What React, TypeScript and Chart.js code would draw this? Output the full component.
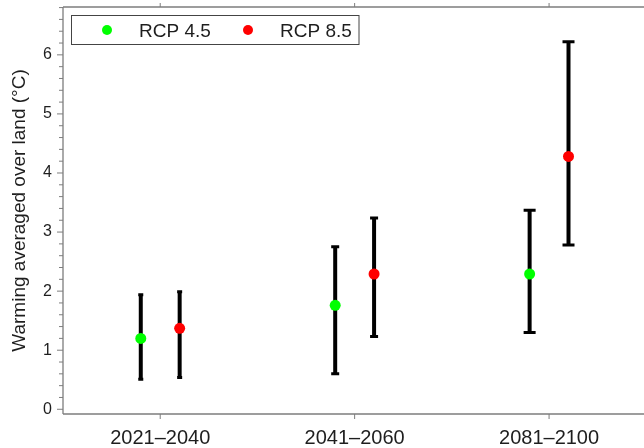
import React, { useEffect, useRef } from 'react';
import { Chart, registerables } from 'chart.js';

Chart.register(...registerables);

// ---- data ----
const categories = ['2021–2040', '2041–2060', '2081–2100'];
const seriesNames = ['RCP 4.5', 'RCP 8.5'];
const rcp45Mean = [1.2, 1.76, 2.29];
const rcp45Low = [0.51, 0.6, 1.3];
const rcp45High = [1.94, 2.75, 3.37];
const rcp85Mean = [1.37, 2.29, 4.28];
const rcp85Low = [0.54, 1.23, 2.78];
const rcp85High = [1.99, 3.24, 6.22];
const yMajorTicks = [0, 1, 2, 3, 4, 5, 6];
const yTitle = 'Warming averaged over land (°C)';

// ---- style ----
const colors = ['#00ff00', '#ff0000'];
const dodge = 0.1;
const capHalf = [2.5, 4, 6];
const FONT = '"Liberation Sans", Arial, Helvetica, sans-serif';
const AXIS_COLOR = '#7d7d7d';
const TEXT_COLOR = '#1e1e1e';

const decorPlugin = {
  id: 'decor',
  beforeDatasetsDraw(chart: any) {
    const ctx = chart.ctx;
    const y = chart.scales.y;
    chart.data.datasets.forEach((ds: any, di: number) => {
      const meta = chart.getDatasetMeta(di);
      meta.data.forEach((pt: any, i: number) => {
        const x = pt.x;
        const yl = y.getPixelForValue(ds.errLow[i]);
        const yh = y.getPixelForValue(ds.errHigh[i]);
        ctx.save();
        ctx.strokeStyle = '#000';
        ctx.lineCap = 'butt';
        ctx.lineWidth = 4;
        ctx.beginPath();
        ctx.moveTo(x, yl);
        ctx.lineTo(x, yh);
        ctx.stroke();
        const c = capHalf[i];
        ctx.lineWidth = 3;
        ctx.beginPath();
        ctx.moveTo(x - c, yh);
        ctx.lineTo(x + c, yh);
        ctx.moveTo(x - c, yl);
        ctx.lineTo(x + c, yl);
        ctx.stroke();
        ctx.restore();
      });
    });
  },
  afterDraw(chart: any) {
    const ctx = chart.ctx;
    const a = chart.chartArea;
    const xs = chart.scales.x;
    const ys = chart.scales.y;
    ctx.save();
    ctx.strokeStyle = AXIS_COLOR;
    ctx.lineWidth = 1.3;
    ctx.beginPath();
    ctx.moveTo(a.left, a.top);
    ctx.lineTo(a.left, a.bottom);
    ctx.moveTo(a.left, a.bottom);
    ctx.lineTo(chart.width, a.bottom);
    ctx.moveTo(a.left, a.top);
    ctx.lineTo(chart.width, a.top);
    ctx.stroke();

    ctx.lineWidth = 1;
    ctx.beginPath();
    yMajorTicks.forEach((v) => {
      const p = ys.getPixelForValue(v);
      ctx.moveTo(a.left - 6, p);
      ctx.lineTo(a.left, p);
    });
    for (let k = 1; k * 0.2 <= ys.max + 1e-9; k++) {
      if (k % 5 === 0) continue;
      const p = ys.getPixelForValue(k * 0.2);
      ctx.moveTo(a.left - 4, p);
      ctx.lineTo(a.left, p);
    }
    categories.forEach((_, i) => {
      const p = xs.getPixelForValue(i);
      ctx.moveTo(p, a.bottom);
      ctx.lineTo(p, a.bottom + 5);
      ctx.moveTo(p, a.top);
      ctx.lineTo(p, a.top - 4);
    });
    ctx.stroke();

    // legend
    ctx.strokeStyle = '#444';
    ctx.lineWidth = 1;
    ctx.strokeRect(71.5, 15.5, 287.5, 29);
    const dotX = [107, 248];
    const textX = [139, 280];
    ctx.font = `19px ${FONT}`;
    ctx.textBaseline = 'alphabetic';
    ctx.textAlign = 'left';
    chart.data.datasets.forEach((ds: any, di: number) => {
      ctx.fillStyle = ds.backgroundColor;
      ctx.beginPath();
      ctx.arc(dotX[di], 30, 5, 0, Math.PI * 2);
      ctx.fill();
      ctx.fillStyle = TEXT_COLOR;
      ctx.fillText(ds.label, textX[di], 37);
    });
    ctx.restore();
  },
};

export default function App() {
  const ref = useRef<HTMLCanvasElement | null>(null);
  useEffect(() => {
    if (!ref.current) return;
    const means = [rcp45Mean, rcp85Mean];
    const lows = [rcp45Low, rcp85Low];
    const highs = [rcp45High, rcp85High];
    const chart = new Chart(ref.current, {
      type: 'scatter',
      data: {
        datasets: seriesNames.map((name, si) => ({
          label: name,
          data: means[si].map((v, i) => ({ x: i + (si === 0 ? -dodge : dodge), y: v })),
          errLow: lows[si],
          errHigh: highs[si],
          backgroundColor: colors[si],
          borderColor: colors[si],
          borderWidth: 0,
          pointRadius: 5.5,
          pointHoverRadius: 5.5,
        })) as any,
      },
      options: {
        animation: false,
        responsive: false,
        devicePixelRatio: 1,
        layout: { padding: { top: 7, left: 0, right: 0, bottom: 0 } },
        plugins: { legend: { display: false }, tooltip: { enabled: false } },
        scales: {
          x: {
            type: 'linear',
            min: -0.5,
            max: 2.46,
            grid: { display: false, drawTicks: false },
            border: { display: false },
            afterBuildTicks: (scale: any) => {
              scale.ticks = categories.map((_, i) => ({ value: i }));
            },
            afterFit: (scale: any) => {
              scale.height = 34;
              scale.paddingLeft = 0;
              scale.paddingRight = 0;
            },
            ticks: {
              autoSkip: false,
              maxRotation: 0,
              padding: 12,
              color: TEXT_COLOR,
              font: { family: FONT, size: 20 },
              callback: (v: any) => categories[Math.round(Number(v))] ?? '',
            },
          },
          y: {
            type: 'linear',
            min: -0.08,
            max: 6.81,
            grid: { display: false, drawTicks: false },
            border: { display: false },
            afterBuildTicks: (scale: any) => {
              scale.ticks = yMajorTicks.map((v) => ({ value: v }));
            },
            afterFit: (scale: any) => {
              scale.width = 63;
              scale.paddingTop = 0;
              scale.paddingBottom = 0;
            },
            title: {
              display: true,
              text: yTitle,
              color: TEXT_COLOR,
              font: { family: FONT, size: 19 },
              padding: { top: 8, bottom: 0 },
            },
            ticks: {
              padding: 11,
              color: TEXT_COLOR,
              font: { family: FONT, size: 16 },
              callback: (v: any) => String(v),
            },
          },
        },
      },
      plugins: [decorPlugin],
    } as any);
    return () => chart.destroy();
  }, []);
  return (
    <div style={{ position: 'fixed', left: 0, top: 0, width: 644, height: 448, background: '#fff' }}>
      <canvas ref={ref} width={644} height={448} />
    </div>
  );
}
